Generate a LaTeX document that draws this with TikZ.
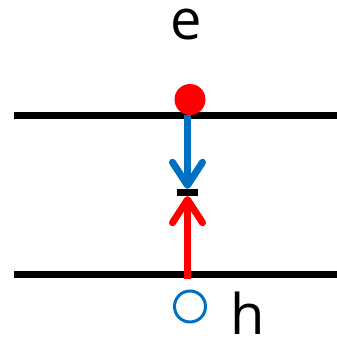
\documentclass[tikz,border=0pt]{standalone}
\usepackage{fontspec}
\setmainfont{Open Sans}
\usetikzlibrary{arrows.meta}
\definecolor{oblue}{RGB}{0,112,192}
\definecolor{ored}{RGB}{255,0,0}
\begin{document}
\begin{tikzpicture}[x=1pt,y=1pt,
  level/.style={line width=7pt},
  carrier/.style={line width=7pt,-{Straight Barb[round,length=23pt,width=30pt]}},
  lbl/.style={font=\fontsize{56}{60}\selectfont,inner sep=0pt}]
\useasboundingbox (0,0) rectangle (337,341);
% levels
\coordinate (tl) at (14,225.5);
\coordinate (tr) at (337,225.5);
\coordinate (bl) at (14,66);
\coordinate (br) at (337,66);
\draw[level] (tl) -- (tr);
\draw[level] (bl) -- (br);
% electron
\node[circle,fill=ored,minimum size=31pt,inner sep=0pt] (el) at (190,241.5) {};
% hole
\node[circle,draw=oblue,line width=3pt,minimum size=31pt,inner sep=0pt] (ho) at (190,34.5) {};
% recombination level
\node[fill=black,minimum width=21pt,minimum height=7pt,inner sep=0pt] (trap) at (187.5,148.5) {};
% arrows
\coordinate (bs) at (187.5,62);
\draw[carrier,oblue] (trap.north |- el.south) -- (trap.north);
\draw[carrier,ored] (bs) -- (trap.south);
% labels
\node[lbl,anchor=base] (le) at (186,301) {e};
\node[lbl,anchor=base] (lh) at (248,6) {h};
\end{tikzpicture}
\end{document}
